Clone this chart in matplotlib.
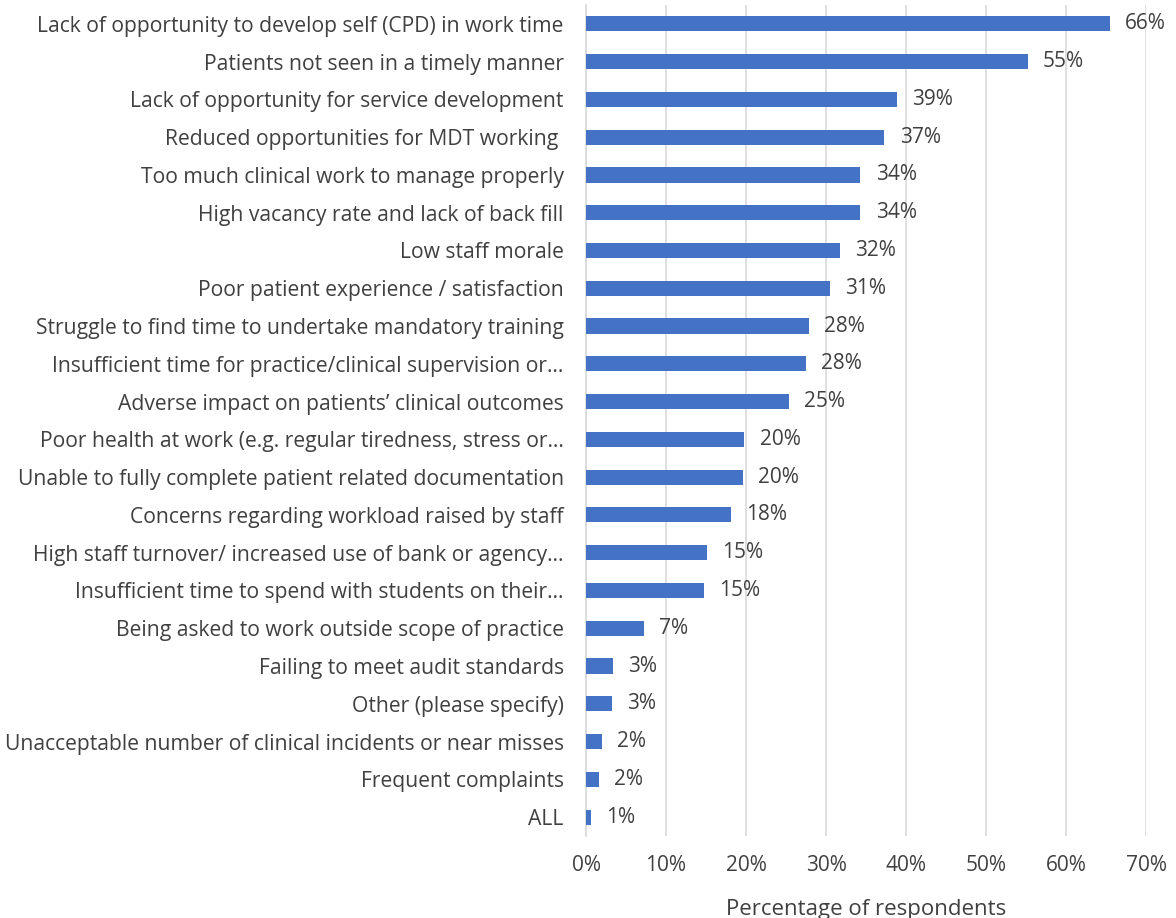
import matplotlib
matplotlib.use("Agg")
import matplotlib.pyplot as plt
from matplotlib.ticker import PercentFormatter

# categories, top to bottom as in the survey chart
categories = [
    "Lack of opportunity to develop self (CPD) in work time",
    "Patients not seen in a timely manner",
    "Lack of opportunity for service development",
    "Reduced opportunities for MDT working ",
    "Too much clinical work to manage properly",
    "High vacancy rate and lack of back fill",
    "Low staff morale",
    "Poor patient experience / satisfaction",
    "Struggle to find time to undertake mandatory training",
    "Insufficient time for practice/clinical supervision or\u2026",
    "Adverse impact on patients\u2019 clinical outcomes",
    "Poor health at work (e.g. regular tiredness, stress or\u2026",
    "Unable to fully complete patient related documentation",
    "Concerns regarding workload raised by staff",
    "High staff turnover/ increased use of bank or agency\u2026",
    "Insufficient time to spend with students on their\u2026",
    "Being asked to work outside scope of practice",
    "Failing to meet audit standards",
    "Other (please specify)",
    "Unacceptable number of clinical incidents or near misses",
    "Frequent complaints",
    "ALL",
]

# percentage of respondents (bar lengths)
values = [65.5, 55.2, 38.9, 37.3, 34.3, 34.3, 31.7, 30.5, 27.9, 27.5, 25.4,
          19.8, 19.6, 18.1, 15.1, 14.7, 7.2, 3.4, 3.2, 2.0, 1.6, 0.64]

# data labels as printed on the chart
value_labels = ["66%", "55%", "39%", "37%", "34%", "34%", "32%", "31%", "28%",
                "28%", "25%", "20%", "20%", "18%", "15%", "15%", "7%", "3%",
                "3%", "2%", "2%", "1%"]

x_ticks = [0, 10, 20, 30, 40, 50, 60, 70]

bar_color = "#4472C4"
text_color = "#404040"
grid_color = "#D9D9D9"

plt.rcParams["font.family"] = ["Open Sans", "DejaVu Sans"]

fig = plt.figure(figsize=(11.76, 9.18), dpi=100)
ax = fig.add_axes([0.4983, 0.0893, 0.4762, 0.9053])

y = list(range(len(categories)))
ax.barh(y, values, height=0.4, color=bar_color, zorder=3)

# value labels
for yi, v, lab in zip(y, values, value_labels):
    ax.text(v + 1.9, yi, lab, va="center", ha="left",
            fontsize=15, color=text_color)

ax.set_yticks(y)
ax.set_yticklabels(categories, fontsize=15.2, color=text_color)
ax.set_ylim(len(categories) - 0.5, -0.5)

ax.set_xlim(0, 70)
ax.set_xticks(x_ticks)
ax.xaxis.set_major_formatter(PercentFormatter(decimals=0))
ax.tick_params(axis="x", labelsize=15, labelcolor=text_color, length=0, pad=14)
ax.tick_params(axis="y", length=0, pad=16)

ax.grid(axis="x", color=grid_color, linewidth=1.2, zorder=0)
for side in ["top", "right", "bottom"]:
    ax.spines[side].set_visible(False)
ax.spines["left"].set_color(grid_color)
ax.spines["left"].set_linewidth(1.2)

ax.set_xlabel("Percentage of respondents", fontsize=16, color=text_color, labelpad=16)

fig.savefig("out.png", dpi=100)
